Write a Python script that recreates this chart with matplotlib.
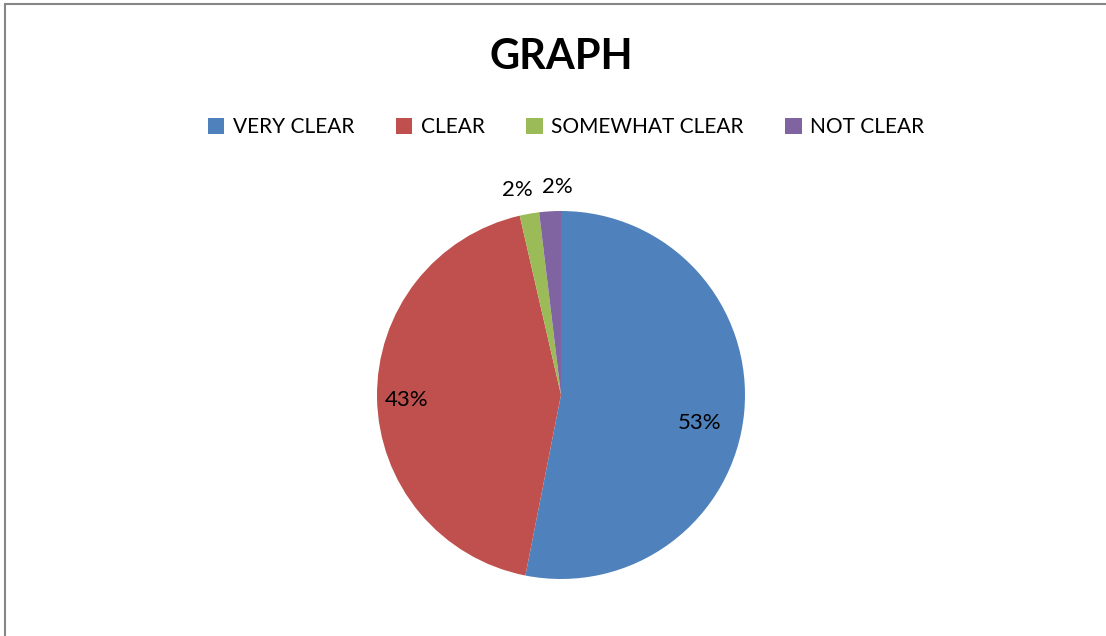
import numpy as np
import matplotlib.pyplot as plt
from matplotlib.patches import Patch, Rectangle

labels = ['VERY CLEAR', 'CLEAR', 'SOMEWHAT CLEAR', 'NOT CLEAR']
values = [53.1, 43.3, 1.7, 1.9]
colors = ['#4F81BD', '#C0504D', '#9BBB59', '#8064A2']

# label placement: distance from centre, angle tweak (deg), sideways nudge
label_dist = [0.77, 0.84, 1.13, 1.13]
label_rot = [-6, 1, 0, 0]
label_dx = [0, 0, -0.045, 0.045]

plt.rcParams['font.family'] = ['Lato', 'DejaVu Sans']

fig = plt.figure(figsize=(11.06, 6.36), dpi=100)
fig.patches.append(Rectangle((5 / 1106, -0.1), 1.2, 1.1 - 4 / 636, transform=fig.transFigure,
                             fill=False, edgecolor='#868686', linewidth=1.5))

ax = fig.add_axes([(561 - 184) / 1106, 57 / 636, 368 / 1106, 368 / 636])
wedges, _ = ax.pie(values, colors=colors, startangle=90, counterclock=False,
                   wedgeprops=dict(linewidth=0))
total = sum(values)
for w, v, d, r, dx in zip(wedges, values, label_dist, label_rot, label_dx):
    ang = np.deg2rad((w.theta1 + w.theta2) / 2 + r)
    ax.text(d * np.cos(ang) + dx, d * np.sin(ang), '%d%%' % round(v / total * 100),
            ha='center', va='center', fontsize=16, color='black')
ax.set_xlim(-1, 1)
ax.set_ylim(-1, 1)
ax.set_aspect('equal')
ax.axis('off')

fig.text(561 / 1106, 1 - 57 / 636, 'GRAPH', ha='center', va='center',
         fontsize=30, fontweight='bold')

handles = [Patch(facecolor=c, label=l) for c, l in zip(colors, labels)]
fig.legend(handles=handles, loc='center', bbox_to_anchor=(566 / 1106, 1 - 127 / 636),
           ncol=4, frameon=False, fontsize=15, handlelength=0.8, handleheight=0.8,
           handletextpad=0.4, columnspacing=2.0)

plt.savefig('out.png', dpi=100)
